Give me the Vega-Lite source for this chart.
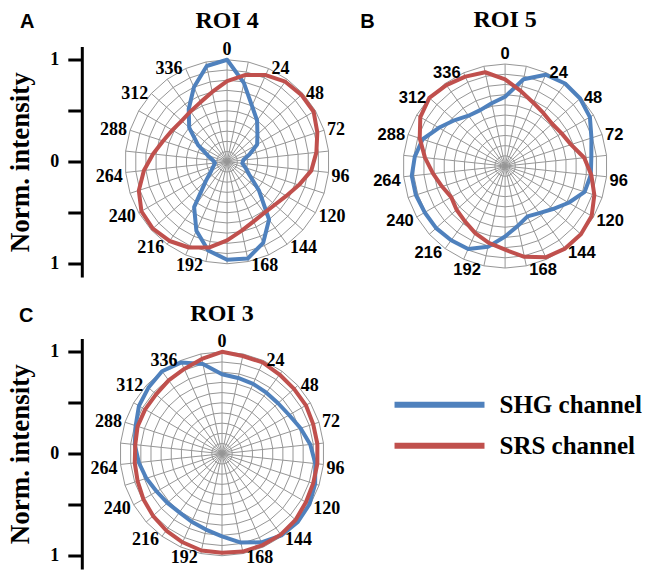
{
  "$schema": "https://vega.github.io/schema/vega-lite/v6.json",
  "padding": {"left": 5.5, "top": 7.5, "right": 5, "bottom": 2},
  "bounds": "flush",
  "columns": 2,
  "spacing": {"row": 61, "column": 12},
  "resolve": {"scale": {"x": "independent", "y": "independent"}},
  "config": {"view": {"stroke": null}, "font": "Liberation Serif", "axis": {"grid": false}},
  "datasets": {
    "rings": [{"r":0.1},{"r":0.2},{"r":0.3},{"r":0.4},{"r":0.5},{"r":0.6},{"r":0.7},{"r":0.8},{"r":0.9},{"r":1.0}],
    "spokes": [{"a":0},{"a":12},{"a":24},{"a":36},{"a":48},{"a":60},{"a":72},{"a":84},{"a":96},{"a":108},{"a":120},{"a":132},{"a":144},{"a":156},{"a":168},{"a":180},{"a":192},{"a":204},{"a":216},{"a":228},{"a":240},{"a":252},{"a":264},{"a":276},{"a":288},{"a":300},{"a":312},{"a":324},{"a":336},{"a":348}],
    "ticks": [{"a":0},{"a":24},{"a":48},{"a":72},{"a":96},{"a":120},{"a":144},{"a":168},{"a":192},{"a":216},{"a":240},{"a":264},{"a":288},{"a":312},{"a":336}],
    "channels": [{"c": "SHG channel"}, {"c": "SRS channel"}],
    "curves": [
      {"p":"ROI 4","c":"SHG channel","a":0,"r":1.00},{"p":"ROI 4","c":"SHG channel","a":12,"r":0.79},{"p":"ROI 4","c":"SHG channel","a":24,"r":0.60},{"p":"ROI 4","c":"SHG channel","a":36,"r":0.50},{"p":"ROI 4","c":"SHG channel","a":48,"r":0.40},{"p":"ROI 4","c":"SHG channel","a":60,"r":0.34},{"p":"ROI 4","c":"SHG channel","a":72,"r":0.23},{"p":"ROI 4","c":"SHG channel","a":84,"r":0.16},{"p":"ROI 4","c":"SHG channel","a":96,"r":0.15},{"p":"ROI 4","c":"SHG channel","a":108,"r":0.19},{"p":"ROI 4","c":"SHG channel","a":120,"r":0.25},{"p":"ROI 4","c":"SHG channel","a":132,"r":0.42},{"p":"ROI 4","c":"SHG channel","a":144,"r":0.70},{"p":"ROI 4","c":"SHG channel","a":156,"r":0.87},{"p":"ROI 4","c":"SHG channel","a":168,"r":0.97},{"p":"ROI 4","c":"SHG channel","a":180,"r":0.96},{"p":"ROI 4","c":"SHG channel","a":192,"r":0.89},{"p":"ROI 4","c":"SHG channel","a":204,"r":0.74},{"p":"ROI 4","c":"SHG channel","a":216,"r":0.55},{"p":"ROI 4","c":"SHG channel","a":228,"r":0.28},{"p":"ROI 4","c":"SHG channel","a":240,"r":0.18},{"p":"ROI 4","c":"SHG channel","a":252,"r":0.14},{"p":"ROI 4","c":"SHG channel","a":264,"r":0.12},{"p":"ROI 4","c":"SHG channel","a":276,"r":0.14},{"p":"ROI 4","c":"SHG channel","a":288,"r":0.20},{"p":"ROI 4","c":"SHG channel","a":300,"r":0.33},{"p":"ROI 4","c":"SHG channel","a":312,"r":0.50},{"p":"ROI 4","c":"SHG channel","a":324,"r":0.64},{"p":"ROI 4","c":"SHG channel","a":336,"r":0.80},{"p":"ROI 4","c":"SHG channel","a":348,"r":0.96},
      {"p":"ROI 4","c":"SRS channel","a":0,"r":0.79},{"p":"ROI 4","c":"SRS channel","a":12,"r":0.87},{"p":"ROI 4","c":"SRS channel","a":24,"r":0.93},{"p":"ROI 4","c":"SRS channel","a":36,"r":0.97},{"p":"ROI 4","c":"SRS channel","a":48,"r":0.98},{"p":"ROI 4","c":"SRS channel","a":60,"r":0.98},{"p":"ROI 4","c":"SRS channel","a":72,"r":0.93},{"p":"ROI 4","c":"SRS channel","a":84,"r":0.88},{"p":"ROI 4","c":"SRS channel","a":96,"r":0.83},{"p":"ROI 4","c":"SRS channel","a":108,"r":0.74},{"p":"ROI 4","c":"SRS channel","a":120,"r":0.67},{"p":"ROI 4","c":"SRS channel","a":132,"r":0.63},{"p":"ROI 4","c":"SRS channel","a":144,"r":0.62},{"p":"ROI 4","c":"SRS channel","a":156,"r":0.64},{"p":"ROI 4","c":"SRS channel","a":168,"r":0.69},{"p":"ROI 4","c":"SRS channel","a":180,"r":0.77},{"p":"ROI 4","c":"SRS channel","a":192,"r":0.86},{"p":"ROI 4","c":"SRS channel","a":204,"r":0.92},{"p":"ROI 4","c":"SRS channel","a":216,"r":0.96},{"p":"ROI 4","c":"SRS channel","a":228,"r":0.98},{"p":"ROI 4","c":"SRS channel","a":240,"r":0.97},{"p":"ROI 4","c":"SRS channel","a":252,"r":0.91},{"p":"ROI 4","c":"SRS channel","a":264,"r":0.82},{"p":"ROI 4","c":"SRS channel","a":276,"r":0.73},{"p":"ROI 4","c":"SRS channel","a":288,"r":0.66},{"p":"ROI 4","c":"SRS channel","a":300,"r":0.62},{"p":"ROI 4","c":"SRS channel","a":312,"r":0.60},{"p":"ROI 4","c":"SRS channel","a":324,"r":0.61},{"p":"ROI 4","c":"SRS channel","a":336,"r":0.64},{"p":"ROI 4","c":"SRS channel","a":348,"r":0.70},
      {"p":"ROI 5","c":"SHG channel","a":0,"r":0.68},{"p":"ROI 5","c":"SHG channel","a":12,"r":0.87},{"p":"ROI 5","c":"SHG channel","a":24,"r":0.98},{"p":"ROI 5","c":"SHG channel","a":36,"r":1.00},{"p":"ROI 5","c":"SHG channel","a":48,"r":0.99},{"p":"ROI 5","c":"SHG channel","a":60,"r":0.96},{"p":"ROI 5","c":"SHG channel","a":72,"r":0.89},{"p":"ROI 5","c":"SHG channel","a":84,"r":0.85},{"p":"ROI 5","c":"SHG channel","a":96,"r":0.845},{"p":"ROI 5","c":"SHG channel","a":108,"r":0.82},{"p":"ROI 5","c":"SHG channel","a":120,"r":0.72},{"p":"ROI 5","c":"SHG channel","a":132,"r":0.63},{"p":"ROI 5","c":"SHG channel","a":144,"r":0.57},{"p":"ROI 5","c":"SHG channel","a":156,"r":0.54},{"p":"ROI 5","c":"SHG channel","a":168,"r":0.60},{"p":"ROI 5","c":"SHG channel","a":180,"r":0.69},{"p":"ROI 5","c":"SHG channel","a":192,"r":0.81},{"p":"ROI 5","c":"SHG channel","a":204,"r":0.89},{"p":"ROI 5","c":"SHG channel","a":216,"r":0.90},{"p":"ROI 5","c":"SHG channel","a":228,"r":0.91},{"p":"ROI 5","c":"SHG channel","a":240,"r":0.91},{"p":"ROI 5","c":"SHG channel","a":252,"r":0.92},{"p":"ROI 5","c":"SHG channel","a":264,"r":0.92},{"p":"ROI 5","c":"SHG channel","a":276,"r":0.89},{"p":"ROI 5","c":"SHG channel","a":288,"r":0.85},{"p":"ROI 5","c":"SHG channel","a":300,"r":0.75},{"p":"ROI 5","c":"SHG channel","a":312,"r":0.67},{"p":"ROI 5","c":"SHG channel","a":324,"r":0.61},{"p":"ROI 5","c":"SHG channel","a":336,"r":0.60},{"p":"ROI 5","c":"SHG channel","a":348,"r":0.63},
      {"p":"ROI 5","c":"SRS channel","a":0,"r":0.85},{"p":"ROI 5","c":"SRS channel","a":12,"r":0.75},{"p":"ROI 5","c":"SRS channel","a":24,"r":0.68},{"p":"ROI 5","c":"SRS channel","a":36,"r":0.64},{"p":"ROI 5","c":"SRS channel","a":48,"r":0.62},{"p":"ROI 5","c":"SRS channel","a":60,"r":0.64},{"p":"ROI 5","c":"SRS channel","a":72,"r":0.68},{"p":"ROI 5","c":"SRS channel","a":84,"r":0.78},{"p":"ROI 5","c":"SRS channel","a":96,"r":0.85},{"p":"ROI 5","c":"SRS channel","a":108,"r":0.92},{"p":"ROI 5","c":"SRS channel","a":120,"r":0.98},{"p":"ROI 5","c":"SRS channel","a":132,"r":1.00},{"p":"ROI 5","c":"SRS channel","a":144,"r":1.00},{"p":"ROI 5","c":"SRS channel","a":156,"r":0.98},{"p":"ROI 5","c":"SRS channel","a":168,"r":0.91},{"p":"ROI 5","c":"SRS channel","a":180,"r":0.82},{"p":"ROI 5","c":"SRS channel","a":192,"r":0.77},{"p":"ROI 5","c":"SRS channel","a":204,"r":0.72},{"p":"ROI 5","c":"SRS channel","a":216,"r":0.67},{"p":"ROI 5","c":"SRS channel","a":228,"r":0.64},{"p":"ROI 5","c":"SRS channel","a":240,"r":0.61},{"p":"ROI 5","c":"SRS channel","a":252,"r":0.65},{"p":"ROI 5","c":"SRS channel","a":264,"r":0.71},{"p":"ROI 5","c":"SRS channel","a":276,"r":0.79},{"p":"ROI 5","c":"SRS channel","a":288,"r":0.88},{"p":"ROI 5","c":"SRS channel","a":300,"r":0.96},{"p":"ROI 5","c":"SRS channel","a":312,"r":1.00},{"p":"ROI 5","c":"SRS channel","a":324,"r":0.98},{"p":"ROI 5","c":"SRS channel","a":336,"r":0.96},{"p":"ROI 5","c":"SRS channel","a":348,"r":0.94},
      {"p":"ROI 3","c":"SHG channel","a":0,"r":0.78},{"p":"ROI 3","c":"SHG channel","a":12,"r":0.76},{"p":"ROI 3","c":"SHG channel","a":24,"r":0.75},{"p":"ROI 3","c":"SHG channel","a":36,"r":0.74},{"p":"ROI 3","c":"SHG channel","a":48,"r":0.74},{"p":"ROI 3","c":"SHG channel","a":60,"r":0.76},{"p":"ROI 3","c":"SHG channel","a":72,"r":0.81},{"p":"ROI 3","c":"SHG channel","a":84,"r":0.87},{"p":"ROI 3","c":"SHG channel","a":96,"r":0.92},{"p":"ROI 3","c":"SHG channel","a":108,"r":0.96},{"p":"ROI 3","c":"SHG channel","a":120,"r":0.99},{"p":"ROI 3","c":"SHG channel","a":132,"r":1.00},{"p":"ROI 3","c":"SHG channel","a":144,"r":0.99},{"p":"ROI 3","c":"SHG channel","a":156,"r":0.95},{"p":"ROI 3","c":"SHG channel","a":168,"r":0.89},{"p":"ROI 3","c":"SHG channel","a":180,"r":0.81},{"p":"ROI 3","c":"SHG channel","a":192,"r":0.76},{"p":"ROI 3","c":"SHG channel","a":204,"r":0.73},{"p":"ROI 3","c":"SHG channel","a":216,"r":0.71},{"p":"ROI 3","c":"SHG channel","a":228,"r":0.72},{"p":"ROI 3","c":"SHG channel","a":240,"r":0.74},{"p":"ROI 3","c":"SHG channel","a":252,"r":0.78},{"p":"ROI 3","c":"SHG channel","a":264,"r":0.82},{"p":"ROI 3","c":"SHG channel","a":276,"r":0.86},{"p":"ROI 3","c":"SHG channel","a":288,"r":0.89},{"p":"ROI 3","c":"SHG channel","a":300,"r":0.94},{"p":"ROI 3","c":"SHG channel","a":312,"r":0.97},{"p":"ROI 3","c":"SHG channel","a":324,"r":1.00},{"p":"ROI 3","c":"SHG channel","a":336,"r":0.98},{"p":"ROI 3","c":"SHG channel","a":348,"r":0.90},
      {"p":"ROI 3","c":"SRS channel","a":0,"r":1.00},{"p":"ROI 3","c":"SRS channel","a":12,"r":0.98},{"p":"ROI 3","c":"SRS channel","a":24,"r":0.98},{"p":"ROI 3","c":"SRS channel","a":36,"r":0.96},{"p":"ROI 3","c":"SRS channel","a":48,"r":0.95},{"p":"ROI 3","c":"SRS channel","a":60,"r":0.95},{"p":"ROI 3","c":"SRS channel","a":72,"r":0.94},{"p":"ROI 3","c":"SRS channel","a":84,"r":0.94},{"p":"ROI 3","c":"SRS channel","a":96,"r":0.94},{"p":"ROI 3","c":"SRS channel","a":108,"r":0.94},{"p":"ROI 3","c":"SRS channel","a":120,"r":0.95},{"p":"ROI 3","c":"SRS channel","a":132,"r":0.97},{"p":"ROI 3","c":"SRS channel","a":144,"r":0.98},{"p":"ROI 3","c":"SRS channel","a":156,"r":0.98},{"p":"ROI 3","c":"SRS channel","a":168,"r":0.98},{"p":"ROI 3","c":"SRS channel","a":180,"r":0.97},{"p":"ROI 3","c":"SRS channel","a":192,"r":0.97},{"p":"ROI 3","c":"SRS channel","a":204,"r":0.95},{"p":"ROI 3","c":"SRS channel","a":216,"r":0.93},{"p":"ROI 3","c":"SRS channel","a":228,"r":0.91},{"p":"ROI 3","c":"SRS channel","a":240,"r":0.89},{"p":"ROI 3","c":"SRS channel","a":252,"r":0.87},{"p":"ROI 3","c":"SRS channel","a":264,"r":0.86},{"p":"ROI 3","c":"SRS channel","a":276,"r":0.855},{"p":"ROI 3","c":"SRS channel","a":288,"r":0.87},{"p":"ROI 3","c":"SRS channel","a":300,"r":0.87},{"p":"ROI 3","c":"SRS channel","a":312,"r":0.87},{"p":"ROI 3","c":"SRS channel","a":324,"r":0.89},{"p":"ROI 3","c":"SRS channel","a":336,"r":0.91},{"p":"ROI 3","c":"SRS channel","a":348,"r":0.95}
    ]
  },
  "concat": [
    {
      "width": 265.2, "height": 230.52,
      "layer": [
        {"data": {"name": "spokes"},
         "transform": [{"calculate": "sin(datum.a*PI/180)", "as": "sx"}, {"calculate": "cos(datum.a*PI/180)", "as": "sy"}],
         "mark": {"type": "rule", "stroke": "#969696", "strokeWidth": 1},
         "encoding": {
           "x": {"field": "sx", "type": "quantitative", "scale": {"domain": [-1.3, 1.3], "nice": false, "zero": false}, "axis": null},
           "y": {"field": "sy", "type": "quantitative", "scale": {"domain": [-1.13, 1.13], "nice": false, "zero": false},
                 "axis": {"title": "Norm. intensity", "values": [-1, -0.5, 0, 0.5, 1], "labelExpr": "abs(datum.value) == 0.5 ? '' : format(abs(datum.value), 'd')", "offset": 12.7, "domainColor": "#000", "domainWidth": 3, "tickColor": "#000", "tickWidth": 3, "tickSize": 14, "labelFont": "Liberation Serif", "labelFontSize": 18, "labelFontWeight": "bold", "labelColor": "#000", "labelPadding": 9, "labelOverlap": false, "labelFlush": false, "titleFont": "Liberation Serif", "titleFontSize": 27, "titleFontWeight": "bold", "titleColor": "#000", "titlePadding": 15.5, "grid": false}},
           "x2": {"datum": 0}, "y2": {"datum": 0}}},
        {"data": {"name": "rings"},
         "transform": [{"calculate": "[0,12,24,36,48,60,72,84,96,108,120,132,144,156,168,180,192,204,216,228,240,252,264,276,288,300,312,324,336,348]", "as": "ang"}, {"flatten": ["ang"]}, {"calculate": "datum.r*sin(datum.ang*PI/180)", "as": "rx"}, {"calculate": "datum.r*cos(datum.ang*PI/180)", "as": "ry"}],
         "mark": {"type": "line", "interpolate": "linear-closed", "stroke": "#969696", "strokeWidth": 1},
         "encoding": {"x": {"field": "rx", "type": "quantitative", "axis": null}, "y": {"field": "ry", "type": "quantitative"}, "detail": {"field": "r", "type": "nominal"}, "order": {"field": "ang", "type": "quantitative"}}},
        {"data": {"name": "curves"},
         "transform": [{"filter": "datum.p == 'ROI 4'"}, {"calculate": "datum.r*sin(datum.a*PI/180)", "as": "px"}, {"calculate": "datum.r*cos(datum.a*PI/180)", "as": "py"}],
         "mark": {"type": "line", "interpolate": "linear-closed", "strokeWidth": 4, "strokeJoin": "round"},
         "encoding": {"x": {"field": "px", "type": "quantitative", "axis": null}, "y": {"field": "py", "type": "quantitative"}, "order": {"field": "a", "type": "quantitative"},
           "color": {"field": "c", "type": "nominal", "scale": {"domain": ["SHG channel", "SRS channel"], "range": ["#4F81BD", "#C0504D"]}, "legend": null}}},
        {"data": {"name": "ticks"},
         "transform": [{"filter": "datum.a > 0 && datum.a < 180"}, {"calculate": "sin(datum.a*PI/180)", "as": "tx"}, {"calculate": "cos(datum.a*PI/180) - (datum.a > 90 ? 0.04 : 0)", "as": "ty"}],
         "mark": {"type": "text", "align": "left", "baseline": "middle", "dx": 3, "font": "Liberation Serif", "fontSize": 18, "fontWeight": "bold", "color": "#000"},
         "encoding": {"x": {"field": "tx", "type": "quantitative", "axis": null}, "y": {"field": "ty", "type": "quantitative"}, "text": {"field": "a", "type": "quantitative", "format": "d"}}},
        {"data": {"name": "ticks"},
         "transform": [{"filter": "datum.a > 180"}, {"calculate": "sin(datum.a*PI/180)", "as": "tx"}, {"calculate": "cos(datum.a*PI/180) - (datum.a < 270 ? 0.04 : 0)", "as": "ty"}],
         "mark": {"type": "text", "align": "right", "baseline": "middle", "dx": -3, "font": "Liberation Serif", "fontSize": 18, "fontWeight": "bold", "color": "#000"},
         "encoding": {"x": {"field": "tx", "type": "quantitative", "axis": null}, "y": {"field": "ty", "type": "quantitative"}, "text": {"field": "a", "type": "quantitative", "format": "d"}}},
        {"data": {"name": "ticks"},
         "transform": [{"filter": "datum.a == 0"}],
         "mark": {"type": "text", "align": "center", "baseline": "alphabetic", "dy": -5, "font": "Liberation Serif", "fontSize": 18, "fontWeight": "bold", "color": "#000"},
         "encoding": {"x": {"datum": 0, "type": "quantitative", "axis": null}, "y": {"datum": 1, "type": "quantitative"}, "text": {"field": "a", "type": "quantitative", "format": "d"}}},
        {"data": {"values": [{"t": "ROI 4"}]},
         "mark": {"type": "text", "align": "center", "baseline": "alphabetic", "font": "Liberation Serif", "fontSize": 24, "fontWeight": "bold", "color": "#000"},
         "encoding": {"x": {"datum": 0, "type": "quantitative", "axis": null}, "y": {"datum": 1.308, "type": "quantitative"}, "text": {"field": "t"}}},
        {"data": {"values": [{"t": "A"}]},
         "mark": {"type": "text", "align": "center", "baseline": "alphabetic", "font": "Liberation Sans", "fontSize": 20, "fontWeight": "bold", "color": "#000"},
         "encoding": {"x": {"datum": -1.96, "type": "quantitative", "axis": null}, "y": {"datum": 1.308, "type": "quantitative"}, "text": {"field": "t"}}}
      ]
    },
    {
      "width": 265.2, "height": 230.52,
      "layer": [
        {"data": {"name": "spokes"},
         "transform": [{"calculate": "sin(datum.a*PI/180)", "as": "sx"}, {"calculate": "cos(datum.a*PI/180)", "as": "sy"}],
         "mark": {"type": "rule", "stroke": "#969696", "strokeWidth": 1},
         "encoding": {
           "x": {"field": "sx", "type": "quantitative", "scale": {"domain": [-1.3, 1.3], "nice": false, "zero": false}, "axis": null},
           "y": {"field": "sy", "type": "quantitative", "scale": {"domain": [-1.088, 1.172], "nice": false, "zero": false}, "axis": null},
           "x2": {"datum": 0}, "y2": {"datum": 0}}},
        {"data": {"name": "rings"},
         "transform": [{"calculate": "[0,12,24,36,48,60,72,84,96,108,120,132,144,156,168,180,192,204,216,228,240,252,264,276,288,300,312,324,336,348]", "as": "ang"}, {"flatten": ["ang"]}, {"calculate": "datum.r*sin(datum.ang*PI/180)", "as": "rx"}, {"calculate": "datum.r*cos(datum.ang*PI/180)", "as": "ry"}],
         "mark": {"type": "line", "interpolate": "linear-closed", "stroke": "#969696", "strokeWidth": 1},
         "encoding": {"x": {"field": "rx", "type": "quantitative", "axis": null}, "y": {"field": "ry", "type": "quantitative", "axis": null}, "detail": {"field": "r", "type": "nominal"}, "order": {"field": "ang", "type": "quantitative"}}},
        {"data": {"name": "curves"},
         "transform": [{"filter": "datum.p == 'ROI 5'"}, {"calculate": "datum.r*sin(datum.a*PI/180)", "as": "px"}, {"calculate": "datum.r*cos(datum.a*PI/180)", "as": "py"}],
         "mark": {"type": "line", "interpolate": "linear-closed", "strokeWidth": 4, "strokeJoin": "round"},
         "encoding": {"x": {"field": "px", "type": "quantitative", "axis": null}, "y": {"field": "py", "type": "quantitative", "axis": null}, "order": {"field": "a", "type": "quantitative"},
           "color": {"field": "c", "type": "nominal", "scale": {"domain": ["SHG channel", "SRS channel"], "range": ["#4F81BD", "#C0504D"]}, "legend": null}}},
        {"data": {"name": "ticks"},
         "transform": [{"filter": "datum.a > 0 && datum.a < 180"}, {"calculate": "sin(datum.a*PI/180)", "as": "tx"}, {"calculate": "cos(datum.a*PI/180) - (datum.a > 90 ? 0.04 : 0)", "as": "ty"}],
         "mark": {"type": "text", "align": "left", "baseline": "middle", "dx": 3, "font": "Liberation Sans", "fontSize": 16.5, "fontWeight": "bold", "color": "#000"},
         "encoding": {"x": {"field": "tx", "type": "quantitative", "axis": null}, "y": {"field": "ty", "type": "quantitative", "axis": null}, "text": {"field": "a", "type": "quantitative", "format": "d"}}},
        {"data": {"name": "ticks"},
         "transform": [{"filter": "datum.a > 180"}, {"calculate": "sin(datum.a*PI/180)", "as": "tx"}, {"calculate": "cos(datum.a*PI/180) - (datum.a < 270 ? 0.04 : 0)", "as": "ty"}],
         "mark": {"type": "text", "align": "right", "baseline": "middle", "dx": -3, "font": "Liberation Sans", "fontSize": 16.5, "fontWeight": "bold", "color": "#000"},
         "encoding": {"x": {"field": "tx", "type": "quantitative", "axis": null}, "y": {"field": "ty", "type": "quantitative", "axis": null}, "text": {"field": "a", "type": "quantitative", "format": "d"}}},
        {"data": {"name": "ticks"},
         "transform": [{"filter": "datum.a == 0"}],
         "mark": {"type": "text", "align": "center", "baseline": "alphabetic", "dy": -5, "font": "Liberation Sans", "fontSize": 16.5, "fontWeight": "bold", "color": "#000"},
         "encoding": {"x": {"datum": 0, "type": "quantitative", "axis": null}, "y": {"datum": 1, "type": "quantitative", "axis": null}, "text": {"field": "a", "type": "quantitative", "format": "d"}}},
        {"data": {"values": [{"t": "ROI 5"}]},
         "mark": {"type": "text", "align": "center", "baseline": "alphabetic", "font": "Liberation Serif", "fontSize": 24, "fontWeight": "bold", "color": "#000"},
         "encoding": {"x": {"datum": 0, "type": "quantitative", "axis": null}, "y": {"datum": 1.366, "type": "quantitative", "axis": null}, "text": {"field": "t"}}},
        {"data": {"values": [{"t": "B"}]},
         "mark": {"type": "text", "align": "center", "baseline": "alphabetic", "font": "Liberation Sans", "fontSize": 20, "fontWeight": "bold", "color": "#000"},
         "encoding": {"x": {"datum": -1.35, "type": "quantitative", "axis": null}, "y": {"datum": 1.35, "type": "quantitative", "axis": null}, "text": {"field": "t"}}}
      ]
    },
    {
      "width": 265.2, "height": 230.52,
      "layer": [
        {"data": {"name": "spokes"},
         "transform": [{"calculate": "sin(datum.a*PI/180)", "as": "sx"}, {"calculate": "cos(datum.a*PI/180)", "as": "sy"}],
         "mark": {"type": "rule", "stroke": "#969696", "strokeWidth": 1},
         "encoding": {
           "x": {"field": "sx", "type": "quantitative", "scale": {"domain": [-1.25, 1.35], "nice": false, "zero": false}, "axis": null},
           "y": {"field": "sy", "type": "quantitative", "scale": {"domain": [-1.13, 1.13], "nice": false, "zero": false},
                 "axis": {"title": "Norm. intensity", "values": [-1, -0.5, 0, 0.5, 1], "labelExpr": "abs(datum.value) == 0.5 ? '' : format(abs(datum.value), 'd')", "offset": 12.7, "domainColor": "#000", "domainWidth": 3, "tickColor": "#000", "tickWidth": 3, "tickSize": 14, "labelFont": "Liberation Serif", "labelFontSize": 18, "labelFontWeight": "bold", "labelColor": "#000", "labelPadding": 9, "labelOverlap": false, "labelFlush": false, "titleFont": "Liberation Serif", "titleFontSize": 27, "titleFontWeight": "bold", "titleColor": "#000", "titlePadding": 15.5, "grid": false}},
           "x2": {"datum": 0}, "y2": {"datum": 0}}},
        {"data": {"name": "rings"},
         "transform": [{"calculate": "[0,12,24,36,48,60,72,84,96,108,120,132,144,156,168,180,192,204,216,228,240,252,264,276,288,300,312,324,336,348]", "as": "ang"}, {"flatten": ["ang"]}, {"calculate": "datum.r*sin(datum.ang*PI/180)", "as": "rx"}, {"calculate": "datum.r*cos(datum.ang*PI/180)", "as": "ry"}],
         "mark": {"type": "line", "interpolate": "linear-closed", "stroke": "#969696", "strokeWidth": 1},
         "encoding": {"x": {"field": "rx", "type": "quantitative", "axis": null}, "y": {"field": "ry", "type": "quantitative"}, "detail": {"field": "r", "type": "nominal"}, "order": {"field": "ang", "type": "quantitative"}}},
        {"data": {"name": "curves"},
         "transform": [{"filter": "datum.p == 'ROI 3'"}, {"calculate": "datum.r*sin(datum.a*PI/180)", "as": "px"}, {"calculate": "datum.r*cos(datum.a*PI/180)", "as": "py"}],
         "mark": {"type": "line", "interpolate": "linear-closed", "strokeWidth": 4, "strokeJoin": "round"},
         "encoding": {"x": {"field": "px", "type": "quantitative", "axis": null}, "y": {"field": "py", "type": "quantitative"}, "order": {"field": "a", "type": "quantitative"},
           "color": {"field": "c", "type": "nominal", "scale": {"domain": ["SHG channel", "SRS channel"], "range": ["#4F81BD", "#C0504D"]}, "legend": null}}},
        {"data": {"name": "ticks"},
         "transform": [{"filter": "datum.a > 0 && datum.a < 180"}, {"calculate": "sin(datum.a*PI/180)", "as": "tx"}, {"calculate": "cos(datum.a*PI/180) - (datum.a > 90 ? 0.04 : 0)", "as": "ty"}],
         "mark": {"type": "text", "align": "left", "baseline": "middle", "dx": 3, "font": "Liberation Serif", "fontSize": 18, "fontWeight": "bold", "color": "#000"},
         "encoding": {"x": {"field": "tx", "type": "quantitative", "axis": null}, "y": {"field": "ty", "type": "quantitative"}, "text": {"field": "a", "type": "quantitative", "format": "d"}}},
        {"data": {"name": "ticks"},
         "transform": [{"filter": "datum.a > 180"}, {"calculate": "sin(datum.a*PI/180)", "as": "tx"}, {"calculate": "cos(datum.a*PI/180) - (datum.a < 270 ? 0.04 : 0)", "as": "ty"}],
         "mark": {"type": "text", "align": "right", "baseline": "middle", "dx": -3, "font": "Liberation Serif", "fontSize": 18, "fontWeight": "bold", "color": "#000"},
         "encoding": {"x": {"field": "tx", "type": "quantitative", "axis": null}, "y": {"field": "ty", "type": "quantitative"}, "text": {"field": "a", "type": "quantitative", "format": "d"}}},
        {"data": {"name": "ticks"},
         "transform": [{"filter": "datum.a == 0"}],
         "mark": {"type": "text", "align": "center", "baseline": "alphabetic", "dy": -5, "font": "Liberation Serif", "fontSize": 18, "fontWeight": "bold", "color": "#000"},
         "encoding": {"x": {"datum": 0, "type": "quantitative", "axis": null}, "y": {"datum": 1, "type": "quantitative"}, "text": {"field": "a", "type": "quantitative", "format": "d"}}},
        {"data": {"values": [{"t": "ROI 3"}]},
         "mark": {"type": "text", "align": "center", "baseline": "alphabetic", "font": "Liberation Serif", "fontSize": 24, "fontWeight": "bold", "color": "#000"},
         "encoding": {"x": {"datum": 0, "type": "quantitative", "axis": null}, "y": {"datum": 1.304, "type": "quantitative"}, "text": {"field": "t"}}},
        {"data": {"values": [{"t": "C"}]},
         "mark": {"type": "text", "align": "center", "baseline": "alphabetic", "font": "Liberation Sans", "fontSize": 20, "fontWeight": "bold", "color": "#000"},
         "encoding": {"x": {"datum": -1.92, "type": "quantitative", "axis": null}, "y": {"datum": 1.287, "type": "quantitative"}, "text": {"field": "t"}}}
      ]
    },
    {
      "width": 265.2, "height": 123,
      "data": {"name": "channels"},
      "encoding": {"y": {"field": "c", "type": "nominal", "scale": {"type": "point", "padding": 1, "align": 0.808}, "axis": null}},
      "layer": [
        {"mark": {"type": "rule", "strokeWidth": 6},
         "encoding": {"x": {"datum": 0.216, "type": "quantitative", "scale": {"domain": [0, 2.6], "nice": false, "zero": false}, "axis": null}, "x2": {"datum": 1.098},
           "color": {"field": "c", "type": "nominal", "scale": {"domain": ["SHG channel", "SRS channel"], "range": ["#4F81BD", "#C0504D"]}, "legend": null}}},
        {"mark": {"type": "text", "align": "left", "baseline": "middle", "font": "Liberation Serif", "fontSize": 25, "fontWeight": "bold", "color": "#000"},
         "encoding": {"x": {"datum": 1.245, "type": "quantitative", "axis": null}, "text": {"field": "c"}}}
      ]
    }
  ]
}
